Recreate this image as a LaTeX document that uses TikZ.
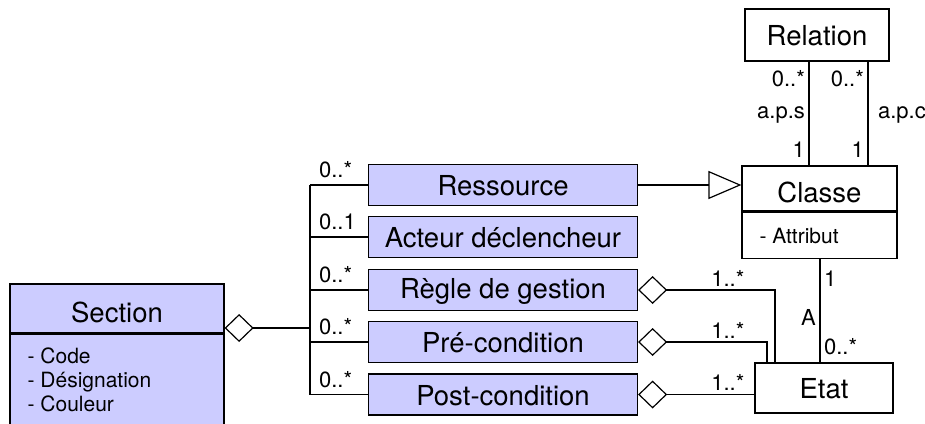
\documentclass[tikz,border=0pt]{standalone}
\usepackage{fontspec}
\setmainfont{TeX Gyre Heros}
\usetikzlibrary{calc, arrows.meta}

\begin{document}
\begin{tikzpicture}[x=1pt, y=-1pt]
    % Define colors
    \definecolor{borderColour}{HTML}{000000}
    \definecolor{fillColour}{HTML}{CCCCFF}

    % Define styles
    \tikzset{
        classBox/.style={draw=borderColour, line width=1.2pt, inner sep=0pt, font=\fontsize{27.5}{30}\selectfont},
        attrText/.style={inner sep=0pt, align=left, font=\fontsize{21}{24}\selectfont},
        mult/.style={inner sep=3.5pt, font=\fontsize{22}{24}\selectfont},
        link/.style={draw=borderColour, line width=1.2pt},
        aggr/.style={link, {Diamond[open, length=29pt, width=28pt]}-},
        gener/.style={link, -{Triangle[open, length=33pt, width=28pt]}}
    }

    % Fix picture size
    \useasboundingbox (0,0) rectangle (925,423);

    % Draw Section class
    \node[classBox, fill=fillColour, minimum width=214pt, minimum height=49pt, text height=28pt] (section) at (117,308.5) {Section};
    \node[classBox, fill=fillColour, minimum width=214pt, minimum height=110pt, anchor=north] (sectionBody) at (section.south) {};
    \node[attrText, anchor=north west] (sectionAttr) at ($(sectionBody.north west)+(18,14)$) {- Code\\- Désignation\\- Couleur};

    % Draw the five linked classes
    \foreach \name/\label/\y in {ressource/Ressource/185, acteur/Acteur déclencheur/237, regle/Règle de gestion/290, pre/Pré-condition/342, post/Post-condition/394.5}
        \node[classBox, fill=fillColour, minimum width=269pt, minimum height=41pt, text height=22pt] (\name) at (503,\y) {\label};

    % Draw Classe, Relation and Etat
    \node[classBox, minimum width=155pt, minimum height=45pt, text height=28pt] (classe) at (819.5,188.5) {Classe};
    \node[classBox, minimum width=155pt, minimum height=46pt, anchor=north] (classeBody) at (classe.south) {};
    \node[attrText, anchor=west] (classeAttr) at ($(classeBody.west)+(18,1)$) {- Attribut};
    \node[classBox, minimum width=144pt, minimum height=52pt, text height=22pt] (relation) at (817,35) {Relation};
    \node[classBox, minimum width=138pt, minimum height=50pt, text height=22pt] (etat) at (824,388) {Etat};

    % Define connector positions
    \coordinate (bus) at (310,0);
    \coordinate (sectionJoin) at (310,328);
    \coordinate (apsLine) at (809,0);
    \coordinate (apcLine) at (868,0);
    \coordinate (assocLine) at (820,0);
    \coordinate (regleDrop) at (775,0);
    \coordinate (preDrop) at (767,0);
    \coordinate (cardEnd) at (748,0);

    % Section aggregation and bus
    \draw[aggr] (sectionJoin -| section.east) -- (sectionJoin);
    \draw[link] (ressource.west -| bus) -- (post.west -| bus);
    \foreach \name/\card in {ressource/0..*, acteur/0..1, regle/0..*, pre/0..*, post/0..*}
        \draw[link] (\name.west) -- (\name.west -| bus) node[mult, anchor=south west, xshift=5pt, yshift=3pt] {\card};

    % Ressource inherits Classe
    \draw[gener] (ressource.east) -- (ressource.east -| classe.west);

    % Relation to Classe
    \draw[link] (relation.south -| apsLine) -- (classe.north -| apsLine)
        node[mult, left, pos=0.16] {0..*}
        node[mult, left, pos=0.51] {a.p.s}
        node[mult, left, pos=0.85] {1};
    \draw[link] (relation.south -| apcLine) -- (classe.north -| apcLine)
        node[mult, left, pos=0.16] {0..*}
        node[mult, right, pos=0.51, xshift=6pt] {a.p.c}
        node[mult, left, pos=0.85] {1};

    % Classe to Etat
    \draw[link] (classeBody.south -| assocLine) -- (etat.north -| assocLine)
        node[mult, right, pos=0.19] {1}
        node[mult, left, pos=0.57] {A}
        node[mult, right, pos=0.85] {0..*};

    % Aggregations to Etat
    \draw[aggr] (regle.east) -- (regle.east -| regleDrop) -- (etat.north -| regleDrop);
    \draw[aggr] (pre.east) -- (pre.east -| preDrop) -- (etat.north -| preDrop);
    \draw[aggr] (post.east) -- (post.east -| etat.west);
    \foreach \name in {regle, pre, post}
        \node[mult, anchor=south east] (\name Card) at (\name.east -| cardEnd) {1..*};

\end{tikzpicture}
\end{document}
